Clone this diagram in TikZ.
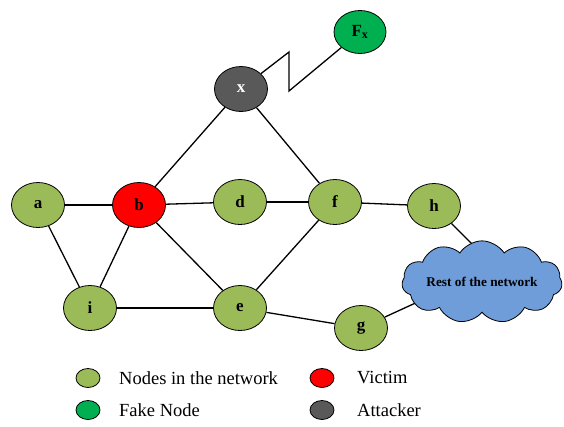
\documentclass[tikz,border=0pt]{standalone}
\usepackage{fontspec}
\setmainfont{Liberation Serif}
\usepackage{tikz}
\usetikzlibrary{shapes.geometric, shapes.symbols, backgrounds}

\definecolor{netgreen}{HTML}{9BBB59}
\definecolor{fakegreen}{HTML}{00B050}
\definecolor{victimred}{HTML}{FF0000}
\definecolor{attackgray}{HTML}{595959}
\definecolor{cloudblue}{HTML}{6F9DD9}

\begin{document}
\begin{tikzpicture}[x=1pt, y=-1pt,
	peer/.style={ellipse, draw, line width=0.8pt, fill=netgreen, minimum width=53pt, minimum height=45pt, inner sep=0pt, font=\fontsize{17}{19}\selectfont\bfseries},
	key/.style={ellipse, draw, line width=0.8pt, minimum width=24pt, minimum height=19pt, inner sep=0pt},
	keytext/.style={anchor=west, inner sep=0pt, font=\fontsize{18.5}{20}\selectfont},
	link/.style={line width=1.3pt}]
	\useasboundingbox (0,0) rectangle (564,426);

	\node[peer] (a) at (38,205)  {a};
	\node[peer, fill=victimred] (b) at (139,205) {b};
	\node[peer] (d) at (240,202) {d};
	\node[peer] (f) at (335,202) {f};
	\node[peer] (h) at (434,206) {h};
	\node[peer] (i) at (90,308)  {i};
	\node[peer] (e) at (240,308) {e};
	\node[peer] (g) at (361,328) {g};
	\node[peer, fill=attackgray, text=white] (x) at (241,89) {x};
	\node[peer, fill=fakegreen, minimum width=52pt, minimum height=43pt] (Fx) at (360,32) {F\textsubscript{x}};
	\node[cloud, draw, line width=0.8pt, fill=cloudblue, cloud puffs=11, cloud puff arc=115, aspect=2.6,
		minimum width=156pt, minimum height=62pt, inner sep=0pt,
		font=\fontsize{13.3}{15}\selectfont\bfseries] (rest) at (482,282) {Rest of the network};

	% where the two outer links meet the cloud
	\coordinate (restTop)  at ([shift={(8,-20)}]rest.center);
	\coordinate (restLeft) at ([shift={(-60,18)}]rest.center);

	% zigzag between attacker and fake node
	\coordinate (zigA) at (289,52);
	\coordinate (zigB) at (289,91);

	\begin{pgfonlayer}{background}
	\draw[link] (a) -- (b);
	\draw[link] (a) -- (i);
	\draw[link] (b) -- (i);
	\draw[link] (b) -- (x);
	\draw[link] (b) -- (d);
	\draw[link] (b) -- (e);
	\draw[link] (d) -- (f);
	\draw[link] (x) -- (f);
	\draw[link] (f) -- (e);
	\draw[link] (f) -- (h);
	\draw[link] (i) -- (e);
	\draw[link] (e) -- (g);
	\draw[link] (h) -- (restTop);
	\draw[link] (g) -- (restLeft);
	\draw[link] (x) -- (zigA) -- (zigB) -- (Fx);
	\end{pgfonlayer}

	% legend
	\node[key, fill=netgreen]   (keyNet)    at (88,378)  {};
	\node[key, fill=fakegreen]  (keyFake)   at (88,410)  {};
	\node[key, fill=victimred]  (keyVictim) at (322,378) {};
	\node[key, fill=attackgray] (keyAtt)    at (322,410) {};
	\node[keytext] (keyNetTxt)    at (119,378) {Nodes in the network};
	\node[keytext] (keyFakeTxt)   at (119,410) {Fake Node};
	\node[keytext] (keyVictimTxt) at (357,378) {Victim};
	\node[keytext] (keyAttTxt)    at (357,410) {Attacker};
\end{tikzpicture}
\end{document}
